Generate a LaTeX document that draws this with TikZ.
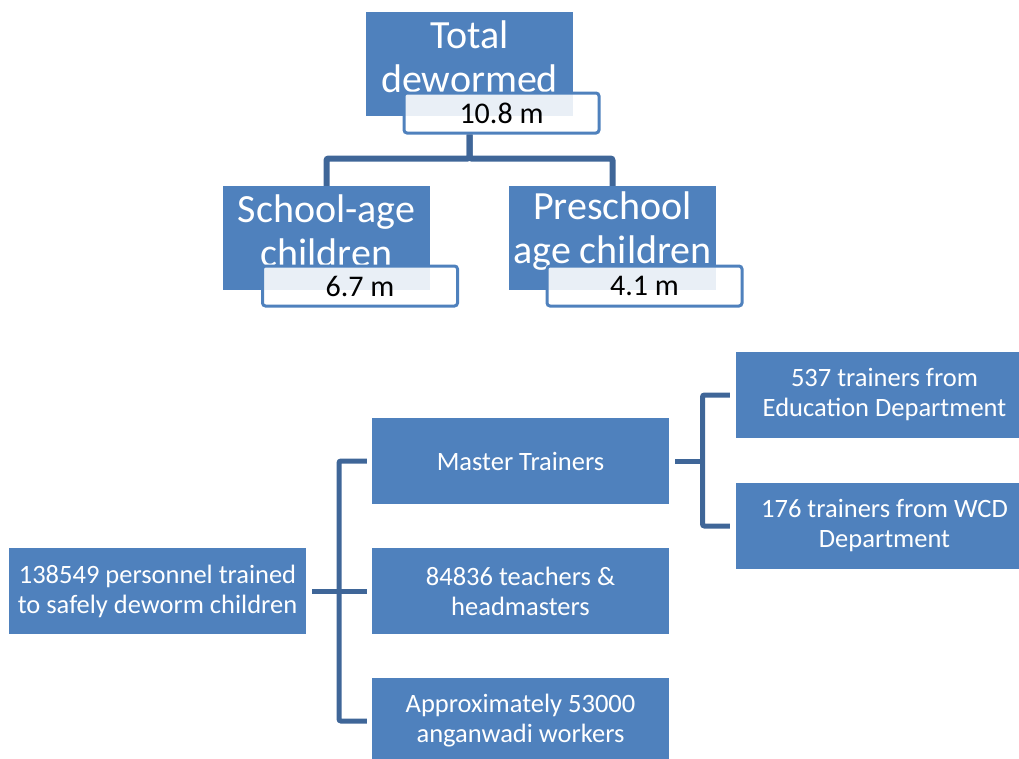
\documentclass[tikz,border=0pt]{standalone}
\usepackage{fontspec}
\setmainfont{Carlito}
\usepackage{xcolor}
\usetikzlibrary{calc}
\definecolor{boxblue}{HTML}{4F81BD}
\definecolor{linkblue}{HTML}{3F6698}

\begin{document}
\begin{tikzpicture}[x=1pt, y=-1pt,
  bluebox/.style={fill=boxblue, text=white, align=center, inner sep=0pt},
  bigbox/.style={bluebox, minimum width=207, minimum height=104},
  bigtext/.style={text=white, align=center, font=\fontsize{40}{44}\selectfont},
  smallbox/.style={bluebox, minimum width=297, minimum height=86, font=\fontsize{26.5}{30}\selectfont},
  valbox/.style={draw=boxblue, line width=3pt, rounded corners=3pt, fill=white, fill opacity=0.88, text opacity=1, minimum width=195, minimum height=40, inner sep=0pt, font=\fontsize{30}{34}\selectfont},
  link/.style={draw=linkblue, line width=5pt, rounded corners=2pt}]
  \useasboundingbox (0,0) rectangle (1019,758);
  % top tree
  \node[bigbox] (total) at (469.5,64) {};
  \node[bigtext] at (469.5,57) {Total\\dewormed};
  \node[valbox] (totalval) at (501.5,113) {10.8 m};
  \node[bigbox] (school) at (326.5,238) {};
  \node[bigtext] at (326.5,231) {School-age\\children};
  \node[valbox] (schoolval) at (360,286) {6.7 m};
  \node[bigbox] (pre) at (612.5,238) {};
  \node[bigtext] at (612.5,231) {Preschool\\age children};
  \node[valbox] (preval) at (644.5,286) {4.1 m};
  \draw[link, line width=6pt] (total.south |- totalval.south) -- ++(0,24) -| (school.north);
  \draw[link, line width=6pt] (total.south |- totalval.south) -- ++(0,24) -| (pre.north);
  % bottom tree
  \node[smallbox] (trained) at (157.5,591) {138549 personnel trained\\to safely deworm children};
  \node[smallbox] (master) at (520.5,461) {Master Trainers};
  \node[smallbox] (teachers) at (520.5,591) {84836 teachers \&\\headmasters};
  \node[smallbox] (anganwadi) at (520.5,721) {Approximately 53000\\anganwadi workers};
  \node[smallbox] (edu) at (884.5,395) {537 trainers from\\Education Department};
  \node[smallbox] (wcd) at (884.5,526) {176 trainers from WCD\\Department};
  \draw[link] ([xshift=6]trained.east) -- ([xshift=-5]teachers.west);
  \draw[link] ([xshift=-5]master.west) -| ($(trained.east)!0.5!(teachers.west)$) |- ([xshift=-5]anganwadi.west);
  \draw[link] ([xshift=6]master.east) -- ($(master.east)!0.5!(edu.west |- master.east)$);
  \draw[link] ([xshift=-6]edu.west) -| ($(master.east)!0.5!(edu.west |- master.east)$) |- ([xshift=-6]wcd.west);
\end{tikzpicture}
\end{document}
